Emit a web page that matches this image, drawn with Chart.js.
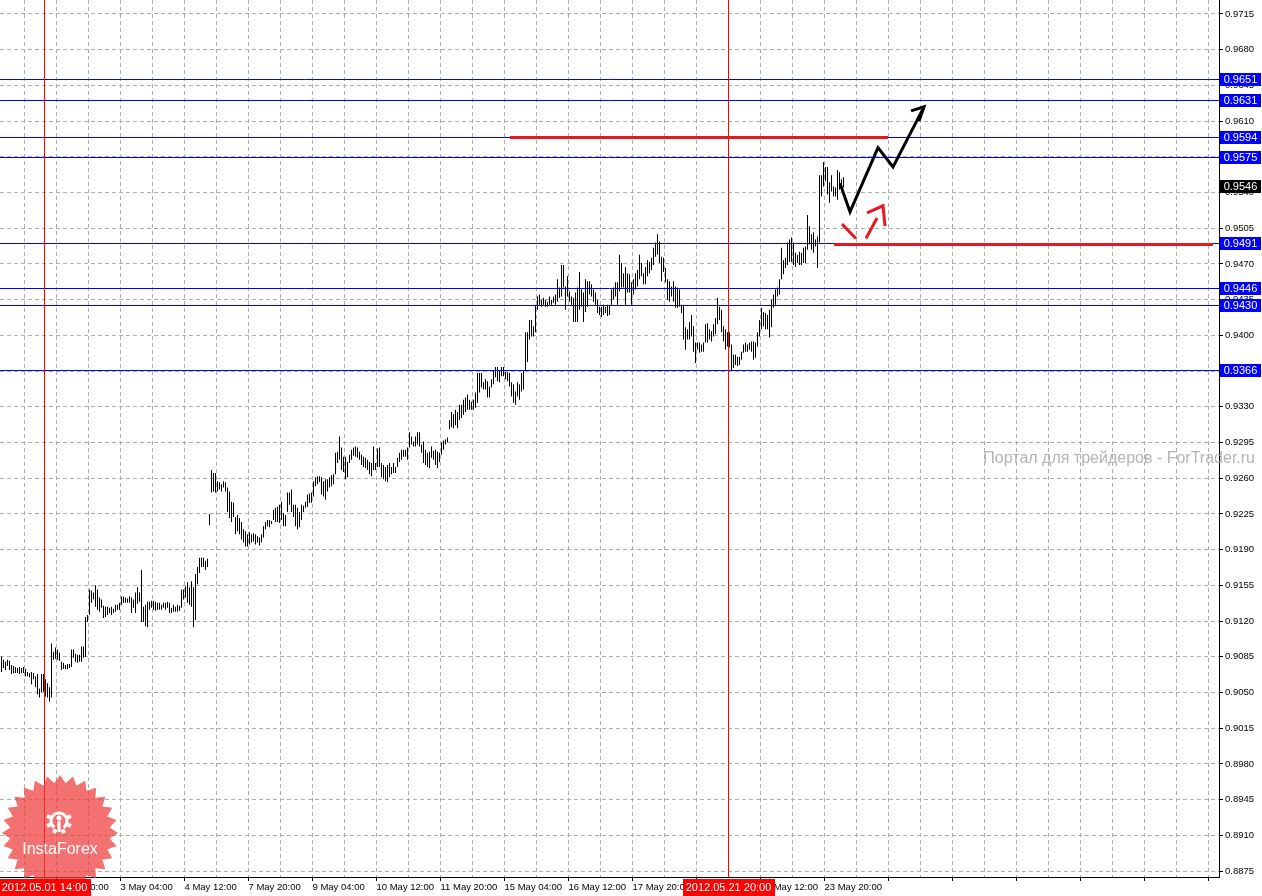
<!DOCTYPE html>
<html>
<head>
<meta charset="utf-8">
<script src="https://cdn.jsdelivr.net/npm/chart.js@4.4.0/dist/chart.umd.min.js"></script>
<style>
  html, body { margin: 0; padding: 0; background: #fff; }
  canvas { display: block; }
</style>
</head>
<body>
<canvas id="chart" width="1262" height="896"></canvas>
<script>
// USDCHF-like H1 bars, 30 Apr 16:00 .. 23 May, one entry per hour
const highs = [
  0.9085,0.9082,0.9080,0.9082,0.9081,0.9077,0.9076,0.9075,0.9074,0.9075,
  0.9074,0.9075,0.9073,0.9070,0.9069,0.9070,0.9069,0.9066,0.9068,0.9054,
  0.9068,0.9068,0.9063,0.9059,0.9055,0.9098,0.9090,0.9094,0.9092,0.9089,
  0.9080,0.9079,0.9077,0.9078,0.9078,0.9092,0.9092,0.9088,0.9087,0.9087,
  0.9095,0.9095,0.9124,0.9126,0.9151,0.9150,0.9148,0.9155,0.9151,0.9143,
  0.9141,0.9135,0.9134,0.9134,0.9133,0.9134,0.9132,0.9136,0.9136,0.9138,
  0.9144,0.9144,0.9143,0.9142,0.9144,0.9143,0.9141,0.9148,0.9153,0.9148,
  0.9170,0.9134,0.9136,0.9139,0.9139,0.9140,0.9140,0.9139,0.9138,0.9138,
  0.9136,0.9138,0.9138,0.9139,0.9138,0.9133,0.9136,0.9134,0.9136,0.9135,
  0.9151,0.9151,0.9154,0.9158,0.9153,0.9159,0.9153,0.9166,0.9173,0.9182,
  0.9182,0.9182,0.9179,0.9181,
  0.9225,0.9268,0.9265,0.9265,0.9257,0.9256,0.9254,0.9257,0.9256,0.9251,
  0.9247,0.9237,0.9236,0.9222,0.9224,0.9221,0.9217,0.9210,0.9208,0.9205,
  0.9207,0.9205,0.9206,0.9205,0.9203,0.9202,0.9205,0.9213,0.9217,0.9219,
  0.9219,0.9218,0.9229,0.9231,0.9232,0.9234,0.9237,0.9226,0.9224,0.9246,
  0.9246,0.9249,0.9234,0.9234,0.9231,0.9227,0.9234,0.9233,0.9237,0.9244,
  0.9245,0.9246,0.9257,0.9261,0.9262,0.9262,0.9261,0.9257,0.9259,0.9259,
  0.9261,0.9263,0.9264,0.9285,0.9286,0.9301,0.9290,0.9281,0.9281,0.9276,
  0.9283,0.9288,0.9290,0.9291,0.9290,0.9286,0.9283,0.9281,0.9280,0.9278,
  0.9276,0.9275,0.9291,0.9275,0.9289,0.9290,0.9275,0.9273,0.9271,0.9273,
  0.9275,0.9271,0.9275,0.9271,0.9280,0.9285,0.9288,0.9288,0.9288,0.9290,
  0.9305,0.9301,0.9296,0.9301,0.9305,0.9305,0.9293,0.9296,0.9288,0.9285,
  0.9286,0.9291,0.9287,0.9288,0.9286,0.9285,0.9295,0.9297,0.9298,0.9300,
  0.9317,0.9325,0.9323,0.9327,0.9325,0.9332,0.9332,0.9337,0.9339,0.9342,
  0.9337,0.9335,0.9337,0.9344,0.9363,0.9363,0.9363,0.9354,0.9357,0.9355,
  0.9350,0.9357,0.9366,0.9369,0.9369,0.9366,0.9369,0.9369,0.9364,0.9364,
  0.9363,0.9354,0.9352,0.9345,0.9354,0.9352,0.9363,0.9366,0.9403,0.9403,
  0.9415,0.9415,0.9409,0.9430,0.9438,0.9440,0.9435,0.9437,0.9435,0.9433,
  0.9438,0.9435,0.9438,0.9440,0.9455,0.9447,0.9469,0.9469,0.9448,0.9458,
  0.9443,0.9438,0.9437,0.9442,0.9447,0.9462,0.9445,0.9442,0.9455,0.9453,
  0.9453,0.9450,0.9445,0.9442,0.9435,0.9428,0.9428,0.9430,0.9428,0.9430,
  0.9430,0.9445,0.9447,0.9452,0.9452,0.9479,0.9471,0.9461,0.9467,0.9461,
  0.9460,0.9452,0.9455,0.9461,0.9464,0.9479,0.9471,0.9461,0.9467,0.9474,
  0.9472,0.9476,0.9486,0.9491,0.9499,0.9492,0.9477,0.9476,0.9466,0.9455,
  0.9453,0.9448,0.9453,0.9448,0.9447,0.9445,0.9430,0.9430,0.9408,0.9406,
  0.9413,0.9420,0.9409,0.9393,0.9393,0.9393,0.9391,0.9393,0.9411,0.9412,
  0.9406,0.9404,0.9411,0.9417,0.9437,0.9428,0.9425,0.9409,0.9406,0.9403,
  0.9403,0.9391,0.9381,0.9381,0.9379,0.9379,0.9384,0.9391,0.9393,0.9391,
  0.9393,0.9394,0.9394,0.9393,0.9403,0.9415,0.9427,0.9423,0.9422,0.9420,
  0.9425,0.9435,0.9440,0.9445,0.9447,0.9455,
  0.9486,0.9474,0.9476,0.9491,0.9494,0.9496,0.9491,0.9481,0.9479,0.9482,
  0.9481,0.9486,0.9487,0.9518,0.9507,0.9499,0.9501,0.9494,0.9497,0.9557,
  0.9557,0.9570,0.9565,0.9565,0.9550,0.9557,0.9546,0.9545,0.9562,0.9560,
  0.9553,0.9555
];
const lows = [
  0.9070,0.9074,0.9072,0.9076,0.9072,0.9068,0.9069,0.9069,0.9069,0.9068,
  0.9069,0.9069,0.9066,0.9066,0.9065,0.9058,0.9063,0.9055,0.9048,0.9045,
  0.9050,0.9051,0.9046,0.9045,0.9041,0.9045,0.9082,0.9083,0.9082,0.9081,
  0.9072,0.9073,0.9073,0.9073,0.9074,0.9075,0.9084,0.9080,0.9079,0.9080,
  0.9080,0.9084,0.9085,0.9119,0.9126,0.9138,0.9141,0.9134,0.9131,0.9129,
  0.9133,0.9123,0.9124,0.9126,0.9128,0.9126,0.9128,0.9129,0.9131,0.9131,
  0.9136,0.9138,0.9138,0.9138,0.9138,0.9128,0.9133,0.9128,0.9137,0.9139,
  0.9119,0.9119,0.9115,0.9114,0.9131,0.9133,0.9131,0.9130,0.9131,0.9131,
  0.9131,0.9133,0.9131,0.9133,0.9128,0.9128,0.9129,0.9129,0.9129,0.9130,
  0.9133,0.9141,0.9143,0.9138,0.9136,0.9134,0.9114,0.9121,0.9156,0.9167,
  0.9173,0.9173,0.9170,0.9173,
  0.9214,0.9246,0.9247,0.9246,0.9247,0.9249,0.9247,0.9251,0.9247,0.9227,
  0.9221,0.9217,0.9222,0.9205,0.9208,0.9205,0.9200,0.9197,0.9193,0.9193,
  0.9195,0.9197,0.9198,0.9195,0.9197,0.9194,0.9197,0.9202,0.9210,0.9213,
  0.9212,0.9215,0.9219,0.9217,0.9217,0.9216,0.9219,0.9213,0.9213,0.9227,
  0.9234,0.9227,0.9222,0.9213,0.9210,0.9212,0.9219,0.9227,0.9231,0.9232,
  0.9236,0.9236,0.9242,0.9252,0.9254,0.9256,0.9244,0.9242,0.9239,0.9247,
  0.9251,0.9252,0.9254,0.9264,0.9275,0.9278,0.9268,0.9266,0.9259,0.9261,
  0.9275,0.9278,0.9282,0.9281,0.9280,0.9278,0.9273,0.9271,0.9270,0.9268,
  0.9264,0.9262,0.9268,0.9268,0.9271,0.9271,0.9261,0.9259,0.9257,0.9256,
  0.9261,0.9264,0.9265,0.9265,0.9271,0.9276,0.9278,0.9281,0.9281,0.9278,
  0.9290,0.9293,0.9291,0.9291,0.9293,0.9291,0.9285,0.9275,0.9273,0.9271,
  0.9270,0.9280,0.9278,0.9273,0.9270,0.9276,0.9283,0.9288,0.9293,0.9295,
  0.9308,0.9310,0.9309,0.9312,0.9309,0.9317,0.9319,0.9322,0.9325,0.9327,
  0.9327,0.9327,0.9327,0.9329,0.9334,0.9344,0.9349,0.9347,0.9347,0.9339,
  0.9339,0.9349,0.9352,0.9359,0.9355,0.9354,0.9360,0.9360,0.9357,0.9355,
  0.9350,0.9340,0.9334,0.9332,0.9340,0.9337,0.9345,0.9347,0.9366,0.9374,
  0.9396,0.9399,0.9399,0.9403,0.9425,0.9430,0.9428,0.9430,0.9428,0.9428,
  0.9430,0.9430,0.9432,0.9430,0.9433,0.9437,0.9438,0.9447,0.9425,0.9438,
  0.9433,0.9430,0.9413,0.9413,0.9413,0.9425,0.9428,0.9413,0.9423,0.9428,
  0.9440,0.9438,0.9433,0.9430,0.9422,0.9420,0.9418,0.9420,0.9422,0.9419,
  0.9420,0.9430,0.9435,0.9438,0.9430,0.9443,0.9447,0.9447,0.9430,0.9442,
  0.9442,0.9430,0.9440,0.9445,0.9448,0.9455,0.9458,0.9450,0.9450,0.9458,
  0.9461,0.9464,0.9469,0.9477,0.9479,0.9471,0.9453,0.9462,0.9452,0.9435,
  0.9433,0.9438,0.9433,0.9427,0.9427,0.9428,0.9422,0.9396,0.9386,0.9396,
  0.9396,0.9399,0.9384,0.9373,0.9386,0.9383,0.9384,0.9384,0.9393,0.9393,
  0.9396,0.9394,0.9399,0.9401,0.9411,0.9415,0.9403,0.9394,0.9386,0.9389,
  0.9388,0.9366,0.9368,0.9371,0.9370,0.9371,0.9376,0.9383,0.9384,0.9384,
  0.9386,0.9384,0.9376,0.9378,0.9389,0.9399,0.9406,0.9409,0.9406,0.9406,
  0.9398,0.9408,0.9427,0.9430,0.9438,0.9440,
  0.9455,0.9460,0.9466,0.9469,0.9472,0.9472,0.9469,0.9467,0.9471,0.9469,
  0.9469,0.9471,0.9471,0.9484,0.9489,0.9484,0.9481,0.9487,0.9466,0.9491,
  0.9536,0.9546,0.9551,0.9538,0.9530,0.9541,0.9536,0.9536,0.9533,0.9543,
  0.9543,0.9545
];

const yTicks = [0.9715,0.9680,0.9645,0.9610,0.9575,0.9540,0.9505,0.9470,0.9435,0.9400,
  0.9365,0.9330,0.9295,0.9260,0.9225,0.9190,0.9155,0.9120,0.9085,0.9050,
  0.9015,0.8980,0.8945,0.8910,0.8875];
const yMin = 0.886912, yMax = 0.972872;
const xMin = -0.75, xMax = 608.75;   // bar index range shown

// time axis: grid every 16 bars, label on every second one
const xTickLabels = ['1 May 20:00','3 May 04:00','4 May 12:00','7 May 20:00','9 May 04:00',
  '10 May 12:00','11 May 20:00','15 May 04:00','16 May 12:00','17 May 20:00',
  '21 May 04:00','22 May 12:00','23 May 20:00'];
const xGrid = [];
for (let v = 11.5; v < xMax; v += 16) xGrid.push(v);

// horizontal levels, last price and vertical markers
const levels = [0.9651, 0.9631, 0.9594, 0.9575, 0.9491, 0.9446, 0.9430, 0.9366];
const lastPrice = 0.9546;
const markerIdx = [21.5, 363.5];
const markerText = ['2012.05.01 14:00', '2012.05.21 20:00'];

// hand drawn forecast (bar index, price)
const redStrokes = [
  [[254.25, 0.9594], [443.25, 0.9594]],
  [[416.25, 0.9489], [605.75, 0.9489]],
  [[420.25, 0.9509], [427.25, 0.9495]],
  [[432.25, 0.9495], [437.75, 0.9515]],
  [[432.75, 0.9520], [440.75, 0.9527], [441.75, 0.9507]]
];
const blackPath = [[419.25, 0.9549], [424.25, 0.9521], [438.25, 0.9584], [445.75, 0.9565], [461.25, 0.9624]];
const blackHead = [[454.75, 0.9620], [461.25, 0.9624], [458.75, 0.9610]];

const FONT = '"Liberation Sans", Arial, sans-serif';
const gridColor = '#a4b4a4';

const toXY = pts => pts.map(p => ({ x: p[0], y: p[1] }));
const lineSet = (pts, color) => ({
  type: 'line', data: toXY(pts), borderColor: color, borderWidth: 3,
  pointRadius: 0, tension: 0, fill: false
});

const datasets = [];
redStrokes.forEach(s => datasets.push(lineSet(s, '#e8191e')));
datasets.push(lineSet(blackPath, '#000'));
datasets.push(lineSet(blackHead, '#000'));
datasets.push({
  type: 'bar',
  data: highs.map((h, i) => ({ x: i, y: [lows[i], h] })),
  backgroundColor: '#000',
  borderWidth: 0,
  barThickness: 1,
  inflateAmount: 0
});

function drawLogo(ctx) {
  const cx = 60, cy = 833;
  ctx.save();
  ctx.fillStyle = 'rgba(238, 58, 58, 0.72)';
  ctx.beginPath();
  for (let k = 0; k < 56; k++) {
    const r = k % 2 ? 50 : 58;
    const a = k * Math.PI / 28 - Math.PI / 2;
    const px = cx + r * Math.cos(a), py = cy + r * Math.sin(a);
    if (k) ctx.lineTo(px, py); else ctx.moveTo(px, py);
  }
  ctx.closePath();
  ctx.fill();

  // gear icon
  const gx = 59, gy = 821;
  ctx.strokeStyle = '#fff';
  ctx.fillStyle = '#fff';
  ctx.lineWidth = 3;
  ctx.beginPath();
  ctx.arc(gx, gy, 8, Math.PI * 0.7, Math.PI * 2.3);
  ctx.stroke();
  for (let k = 0; k < 8; k++) {
    if (k === 3 || k === 4) continue;
    ctx.save();
    ctx.translate(gx, gy);
    ctx.rotate(k * Math.PI / 4 + Math.PI / 8 - Math.PI);
    ctx.fillRect(-2, -13, 4, 4);
    ctx.restore();
  }
  ctx.beginPath();
  ctx.arc(gx, gy - 3, 2.5, 0, Math.PI * 2);
  ctx.fill();
  ctx.fillRect(gx - 1.5, gy, 3, 11);

  ctx.font = '16px ' + FONT;
  ctx.textAlign = 'center';
  ctx.textBaseline = 'middle';
  ctx.fillText('InstaForex', cx, 850);
  ctx.restore();
}

const overlay = {
  id: 'overlay',
  afterDatasetDraw(chart, args) {
    if (args.meta.type !== 'bar') return;
    const { ctx, chartArea: a, scales: { x, y } } = chart;
    ctx.save();
    ctx.lineWidth = 1;
    ctx.strokeStyle = '#0000ff';
    levels.forEach(v => {
      const py = Math.round(y.getPixelForValue(v)) + 0.5;
      ctx.beginPath();
      ctx.moveTo(a.left, py);
      ctx.lineTo(a.right, py);
      ctx.stroke();
    });
    ctx.strokeStyle = '#ff0000';
    markerIdx.forEach(v => {
      const px = Math.floor(x.getPixelForValue(v)) + 0.5;
      ctx.beginPath();
      ctx.moveTo(px, a.top);
      ctx.lineTo(px, a.bottom);
      ctx.stroke();
    });
    ctx.restore();
  },
  afterDraw(chart) {
    const { ctx, scales: { x, y } } = chart;
    ctx.save();
    ctx.font = '16px ' + FONT;
    ctx.fillStyle = '#b4b4b4';
    ctx.textAlign = 'right';
    ctx.textBaseline = 'middle';
    ctx.fillText('Портал для трейдеров - ForTrader.ru', 1255, 459);

    drawLogo(ctx);

    ctx.font = '11px ' + FONT;
    ctx.textAlign = 'center';
    ctx.textBaseline = 'middle';
    markerIdx.forEach((v, k) => {
      const px = Math.floor(x.getPixelForValue(v)) + 0.5;
      const w = Math.round(ctx.measureText(markerText[k]).width + 6);
      ctx.fillStyle = '#ff0000';
      ctx.fillRect(Math.round(px - w / 2), 879, w, 17);
      ctx.fillStyle = '#fff';
      ctx.fillText(markerText[k], px, 888);
    });

    const priceBox = (v, color) => {
      const py = Math.round(y.getPixelForValue(v));
      ctx.fillStyle = color;
      ctx.fillRect(1220, py - 6, 41, 13);
      ctx.fillStyle = '#fff';
      ctx.fillText(v.toFixed(4), 1240.5, py + 0.5);
    };
    levels.forEach(v => priceBox(v, '#0000ff'));
    priceBox(lastPrice, '#000');
    ctx.restore();
  }
};

new Chart(document.getElementById('chart'), {
  type: 'bar',
  data: { datasets },
  options: {
    responsive: false,
    animation: false,
    events: [],
    layout: { padding: 0 },
    plugins: { legend: { display: false }, tooltip: { enabled: false } },
    scales: {
      x: {
        type: 'linear',
        position: 'bottom',
        min: xMin,
        max: xMax,
        bounds: 'data',
        offset: false,
        afterBuildTicks: s => { s.ticks = xGrid.map(v => ({ value: v })); },
        afterFit: s => { s.height = 19; s.paddingLeft = 0; s.paddingRight = 0; },
        grid: {
          offset: false,
          color: gridColor,
          lineWidth: 1,
          drawTicks: true,
          tickLength: 4,
          tickWidth: 1,
          tickBorderDash: [],
          tickColor: c => (c.index % 2 ? '#000' : 'rgba(0,0,0,0)')
        },
        border: { display: true, color: '#000', width: 1, dash: [4, 3] },
        ticks: {
          autoSkip: false,
          maxRotation: 0,
          minRotation: 0,
          align: 'start',
          padding: 1,
          color: '#000',
          font: { family: FONT, size: 9.5 },
          callback: (v, i) => (i % 2 ? (xTickLabels[(i - 1) / 2] || '') : '')
        }
      },
      y: {
        type: 'linear',
        position: 'right',
        min: yMin,
        max: yMax,
        bounds: 'data',
        afterBuildTicks: s => { s.ticks = yTicks.map(v => ({ value: v })); },
        afterFit: s => { s.width = 43; s.paddingTop = 0; s.paddingBottom = 0; },
        grid: {
          color: gridColor,
          lineWidth: 1,
          drawTicks: true,
          tickLength: 4,
          tickWidth: 1,
          tickBorderDash: [],
          tickColor: '#000'
        },
        border: { display: true, color: '#000', width: 1, dash: [4, 3] },
        ticks: {
          padding: 2,
          color: '#000',
          font: { family: FONT, size: 9.5 },
          callback: v => v.toFixed(4)
        }
      }
    }
  },
  plugins: [overlay]
});
</script>
</body>
</html>
